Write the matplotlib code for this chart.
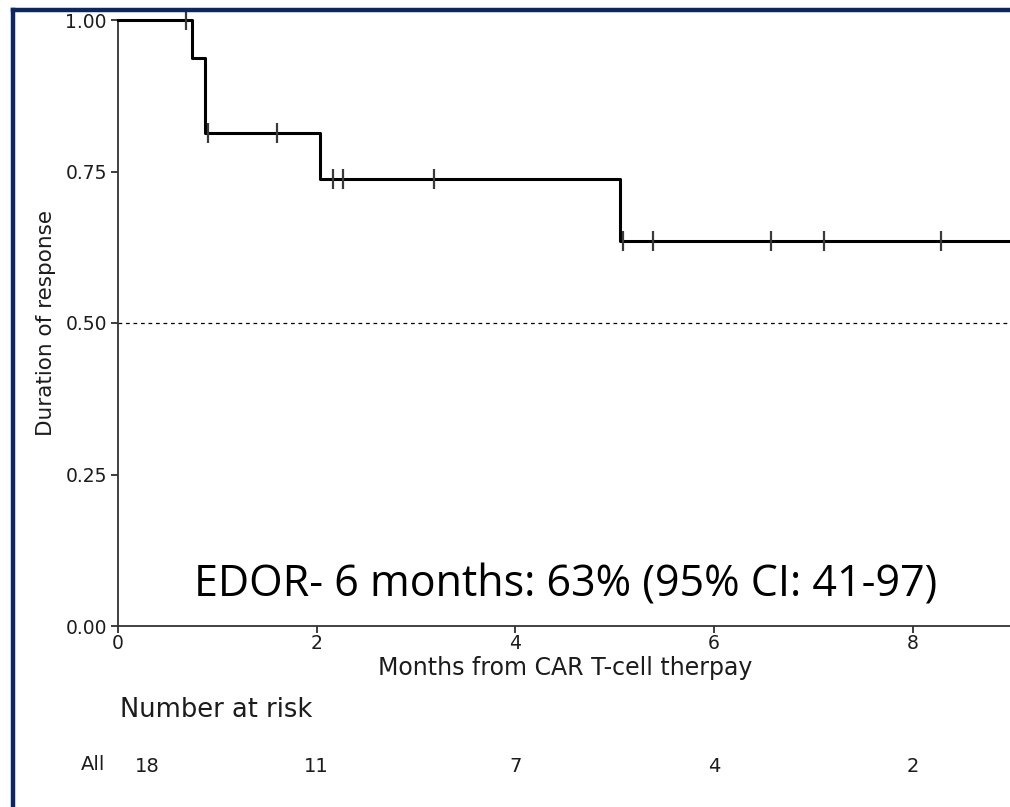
"""Kaplan-Meier duration of response after CAR T-cell therapy, with risk table."""

import matplotlib

matplotlib.use("Agg")
import matplotlib.pyplot as plt
from matplotlib.lines import Line2D

# step curve: event times (months) and survival after each drop
event_times = [0.0, 0.745, 0.875, 2.03, 5.05]
survival = [1.0, 0.937, 0.813, 0.738, 0.635]
x_end = 9.0

# censored observations (months)
censor_times = [0.684, 0.905, 1.603, 2.160, 2.267, 3.179, 5.084, 5.389, 6.572, 7.103, 8.287]

risk_times = [0, 2, 4, 6, 8]
risk_counts = [18, 11, 7, 4, 2]

x_ticks = [0, 2, 4, 6, 8]
y_ticks = [0.00, 0.25, 0.50, 0.75, 1.00]

annotation = "EDOR- 6 months: 63% (95% CI: 41-97)"

INK = "#1c1c1c"
NAVY = "#0b2565"


def surv_at(t):
    s = survival[0]
    for et, sv in zip(event_times, survival):
        if t >= et:
            s = sv
    return s


plt.rcParams["font.family"] = ["DejaVu Sans"]

fig = plt.figure(figsize=(10.10, 8.07), dpi=100)
ax = fig.add_axes([118 / 1010, 181 / 807, 894 / 1010, 606 / 807])

xs = event_times + [x_end]
ys = survival + [survival[-1]]
ax.step(xs, ys, where="post", color="black", linewidth=2.2, clip_on=False, zorder=3)

ax.plot(censor_times, [surv_at(t) for t in censor_times], linestyle="none",
        marker="|", markersize=14, markeredgewidth=1.6, color="#3a3a3a", zorder=4,
        clip_on=False)

ax.axhline(0.5, color="black", linewidth=0.9, linestyle=(0, (3, 3)))

ax.set_xlim(0, x_end)
ax.set_ylim(0, 1)
ax.set_xticks(x_ticks)
ax.set_yticks(y_ticks)
ax.set_xticklabels([str(t) for t in x_ticks])
ax.set_yticklabels([f"{v:.2f}" for v in y_ticks])
ax.tick_params(axis="both", colors=INK, labelsize=13.5, length=5, width=1.2)
ax.tick_params(axis="x", pad=1)
ax.tick_params(axis="y", pad=3)
for side in ("top", "right"):
    ax.spines[side].set_visible(False)
for side in ("left", "bottom"):
    ax.spines[side].set_color("#333333")
    ax.spines[side].set_linewidth(1.3)

ax.set_xlabel("Months from CAR T-cell therpay", fontsize=17, color=INK, labelpad=2)
ax.set_ylabel("Duration of response", fontsize=15.5, color=INK, labelpad=7)

ax.text(4.507, 0.048, annotation, ha="center", va="baseline", fontsize=31,
        family=["Open Sans", "DejaVu Sans"], color="black")

# risk table below the axes
fig.text(120 / 1010, 1 - 710 / 807, "Number at risk", fontsize=18.5, color=INK,
         va="center", ha="left")
fig.text(105 / 1010, 1 - 764 / 807, "All", fontsize=14, color=INK, va="center", ha="right")
for t, n in zip(risk_times, risk_counts):
    fx = ax.transData.transform((t, 0))[0] / fig.bbox.width
    if t == 0:
        fx += 29 / 1010
    fig.text(fx, 1 - 766 / 807, str(n), fontsize=14, color=INK, va="center", ha="center")

# slide frame: navy rule along the left and top
fig.add_artist(Line2D([13 / 1010, 13 / 1010], [0, 1 - 10 / 807], color=NAVY,
                      linewidth=3.2, transform=fig.transFigure, solid_capstyle="projecting"))
fig.add_artist(Line2D([13 / 1010, 1], [1 - 10 / 807, 1 - 10 / 807], color=NAVY,
                      linewidth=3.2, transform=fig.transFigure, solid_capstyle="projecting"))

fig.savefig("out.png", dpi=100)
